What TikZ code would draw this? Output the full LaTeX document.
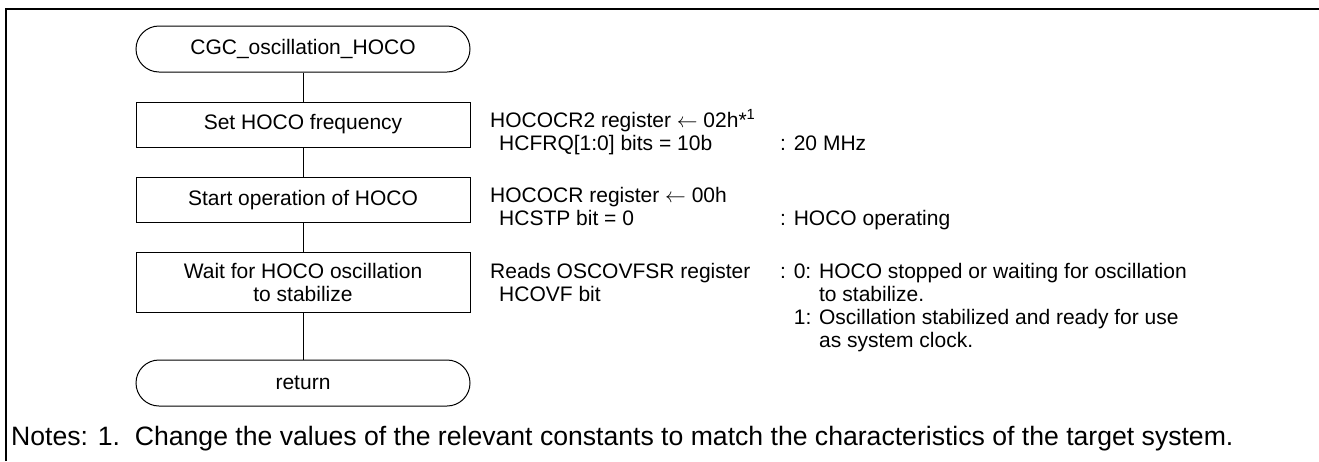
\documentclass[tikz,border=0pt]{standalone}
\usepackage{fontspec}
\setmainfont{Liberation Sans}
\usepackage{tikz}
\usetikzlibrary{calc}

\begin{document}
\begin{tikzpicture}[x=1pt, y=-1pt,
    flowTerm/.style={rectangle, rounded corners=23pt, draw, line width=1pt,
      minimum width=334pt, minimum height=46pt, inner sep=0pt,
      font=\fontsize{21}{23}\selectfont},
    flowBox/.style={rectangle, draw, line width=1pt, align=center,
      minimum width=334pt, minimum height=45pt, inner sep=0pt,
      font=\fontsize{21}{23}\selectfont},
    regText/.style={anchor=base west, inner sep=0pt,
      font=\fontsize{21}{23}\selectfont}]
  \useasboundingbox (0,0) rectangle (1319,461);
  \draw[line width=2pt] (6,461) -- (6,9) -- (1319,9);

  % flow
  \node[flowTerm] (start) at (303,49) {CGC\_oscillation\_HOCO};
  \node[flowBox] (freq) at (303,124.5) {Set HOCO frequency};
  \node[flowBox] (oper) at (303,200) {Start operation of HOCO};
  \node[flowBox, minimum height=60pt] (wait) at (303,282.5)
    {Wait for HOCO oscillation\\to stabilize};
  \node[flowTerm] (ret) at (303,383) {return};
  \draw[line width=1pt] (start) -- (freq) -- (oper) -- (wait) -- (ret);

  % register settings
  \node[regText] (freqA) at (490,127) {HOCOCR2 register $\leftarrow$ 02h*\textsuperscript{1}};
  \node[regText] (freqB) at (499,150) {HCFRQ[1:0] bits = 10b};
  \node[regText] (freqC) at (780,150) {: 20 MHz};
  \node[regText] (operA) at (490,202.5) {HOCOCR register $\leftarrow$ 00h};
  \node[regText] (operB) at (499,225.5) {HCSTP bit = 0};
  \node[regText] (operC) at (780,225.5) {: HOCO operating};
  \node[regText] (waitA) at (490,278.5) {Reads OSCOVFSR register};
  \node[regText] (waitB) at (499,301.5) {HCOVF bit};
  \node[regText] (waitC) at (780,278.5) {: 0: HOCO stopped or waiting for oscillation};
  \node[regText] (waitD) at (780,301.5) {\phantom{: 0: }to stabilize.};
  \node[regText] (waitE) at (780,324.5) {\phantom{: }1: Oscillation stabilized and ready for use};
  \node[regText] (waitF) at (780,347.5) {\phantom{: 0: }as system clock.};

  % note
  \node[regText, font=\fontsize{26.6}{30}\selectfont] (note) at (11,445)
    {Notes: 1.\ \ Change the values of the relevant constants to match the characteristics of the target system.};
\end{tikzpicture}
\end{document}
